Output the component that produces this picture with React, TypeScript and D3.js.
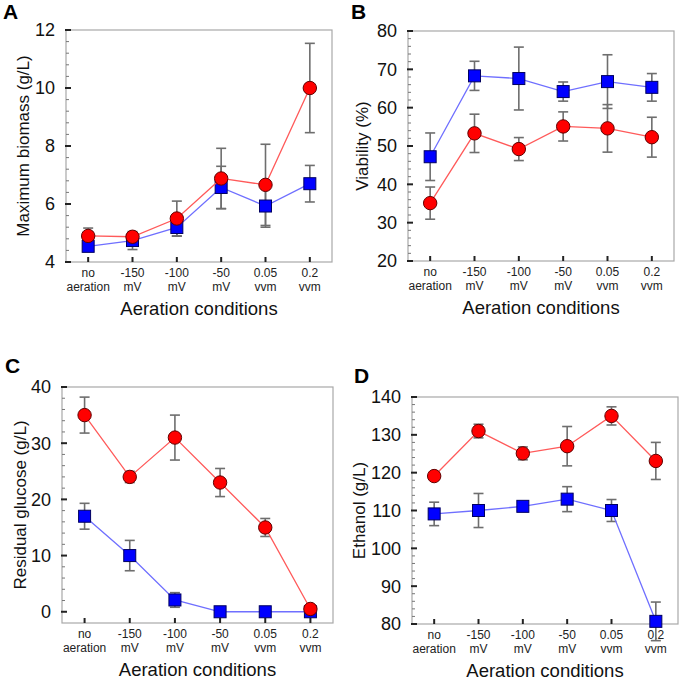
import React, { useEffect, useRef } from "react";
import * as d3 from "d3";

const conditions = ["no|aeration", "-150|mV", "-100|mV", "-50|mV", "0.05|vvm", "0.2|vvm"];

// A - maximum biomass
const biomassRed = [4.9, 4.87, 5.5, 6.88, 6.66, 10.0];
const biomassRedErr = [0.27, 0.1, 0.6, 1.04, 1.4, 1.54];
const biomassBlue = [4.54, 4.74, 5.19, 6.57, 5.93, 6.7];
const biomassBlueErr = [0.1, 0.31, 0.3, 0.73, 0.73, 0.63];

// B - viability
const viabRed = [35.1, 53.3, 49.2, 55.1, 54.6, 52.3];
const viabRedErr = [4.2, 5.0, 3.0, 3.8, 6.2, 5.2];
const viabBlue = [47.2, 68.3, 67.6, 64.2, 66.8, 65.3];
const viabBlueErr = [6.2, 3.8, 8.2, 2.5, 7.0, 3.6];

// C - residual glucose
const glucRed = [35.0, 24.0, 31.0, 23.0, 15.0, 0.5];
const glucRedErr = [3.2, 1.0, 4.0, 2.5, 1.6, 0.3];
const glucBlue = [17.0, 10.0, 2.1, 0, 0, 0];
const glucBlueErr = [2.3, 2.7, 1.3, 0, 0, 0];

// D - ethanol
const ethRed = [119.1, 131.0, 125.1, 127.0, 135.0, 123.1];
const ethRedErr = [1.0, 1.8, 1.7, 5.2, 2.4, 4.9];
const ethBlue = [109.1, 110.0, 111.1, 113.0, 110.0, 80.7];
const ethBlueErr = [3.1, 4.5, 0.8, 3.3, 2.9, 5.1];

const panels = [
  { tag: "A", tagX: 3, tagY: 19, box: [66, 30, 332, 262], yDomain: [4, 12], yTicks: [4, 6, 8, 10, 12], yTitle: "Maximum biomass (g/L)", titleX: 23,
    red: biomassRed, redErr: biomassRedErr, blue: biomassBlue, blueErr: biomassBlueErr },
  { tag: "B", tagX: 351, tagY: 19, box: [408, 31, 674, 261], yDomain: [20, 80], yTicks: [20, 30, 40, 50, 60, 70, 80], yTitle: "Viability (%)", titleX: 362,
    red: viabRed, redErr: viabRedErr, blue: viabBlue, blueErr: viabBlueErr },
  { tag: "C", tagX: 5, tagY: 373, box: [62, 387, 333, 623], yDomain: [-2, 40], yTicks: [0, 10, 20, 30, 40], yTitle: "Residual glucose (g/L)", titleX: 20,
    red: glucRed, redErr: glucRedErr, blue: glucBlue, blueErr: glucBlueErr },
  { tag: "D", tagX: 354, tagY: 383, box: [412, 397, 678, 624], yDomain: [80, 140], yTicks: [80, 90, 100, 110, 120, 130, 140], yTitle: "Ethanol (g/L)", titleX: 359,
    red: ethRed, redErr: ethRedErr, blue: ethBlue, blueErr: ethBlueErr },
];

const FONT = "'Liberation Sans', Arial, sans-serif";

export default function App() {
  const ref = useRef<SVGSVGElement>(null);

  useEffect(() => {
    const svg = d3.select(ref.current);
    svg.selectAll("*").remove();

    panels.forEach((p) => {
      const [x0, y0, x1, y1] = p.box;
      const x = d3.scalePoint().domain(conditions).range([x0, x1]).padding(0.5);
      const y = d3.scaleLinear().domain(p.yDomain).range([y1, y0]);
      const g = svg.append("g").style("font-family", FONT);

      g.append("text").attr("x", p.tagX).attr("y", p.tagY)
        .attr("font-size", 21).attr("font-weight", "bold").text(p.tag);

      g.append("rect").attr("x", x0).attr("y", y0)
        .attr("width", x1 - x0).attr("height", y1 - y0)
        .attr("fill", "white").attr("stroke", "#a8a8a8").attr("stroke-width", 1.2);

      // minor y ticks
      const step = (p.yTicks[1] - p.yTicks[0]) / 5;
      const minor = d3.range(p.yTicks[0], p.yTicks[p.yTicks.length - 1], step)
        .filter((v, i) => i % 5 !== 0);
      g.selectAll(".minor").data(minor).join("line")
        .attr("x1", x0).attr("x2", x0 + 3)
        .attr("y1", (d) => y(d)).attr("y2", (d) => y(d))
        .attr("stroke", "#777").attr("stroke-width", 1);

      g.selectAll(".major").data(p.yTicks).join("line")
        .attr("x1", x0 - 1).attr("x2", x0 + 5)
        .attr("y1", (d) => y(d)).attr("y2", (d) => y(d))
        .attr("stroke", "#222").attr("stroke-width", 2);

      g.selectAll(".ylab").data(p.yTicks).join("text")
        .attr("x", x0 - 11).attr("y", (d) => y(d)).attr("dy", "0.36em")
        .attr("text-anchor", "end").attr("font-size", 18).attr("fill", "#111")
        .text((d) => d);

      // x ticks and labels
      g.selectAll(".xtick").data(conditions).join("line")
        .attr("x1", (d) => x(d)).attr("x2", (d) => x(d))
        .attr("y1", y1).attr("y2", y1 - 5)
        .attr("stroke", "#222").attr("stroke-width", 2);

      const xl = g.selectAll(".xlab").data(conditions).join("text")
        .attr("text-anchor", "middle").attr("font-size", 12).attr("fill", "#222");
      xl.append("tspan").attr("x", (d) => x(d)!).attr("y", y1 + 15).text((d) => d.split("|")[0]);
      xl.append("tspan").attr("x", (d) => x(d)!).attr("y", y1 + 29).text((d) => d.split("|")[1]);

      g.append("text").attr("x", (x0 + x1) / 2).attr("y", y1 + 53)
        .attr("text-anchor", "middle").attr("font-size", 18.5).attr("fill", "#111")
        .text("Aeration conditions");

      g.append("text")
        .attr("transform", `translate(${p.titleX},${(y0 + y1) / 2}) rotate(-90)`)
        .attr("text-anchor", "middle").attr("dy", "0.36em")
        .attr("font-size", 17).attr("fill", "#111").text(p.yTitle);

      const series = [
        { vals: p.blue, err: p.blueErr, line: "#6f6fff", fill: "#0000ff", stroke: "#000060", shape: "square" },
        { vals: p.red, err: p.redErr, line: "#ff5a5a", fill: "#ff0000", stroke: "#600000", shape: "circle" },
      ];

      // error bars first
      series.forEach((s) => {
        const idx = d3.range(s.vals.length).filter((i) => s.err[i] > 0);
        const eb = g.append("g").attr("stroke", "#6e6e6e").attr("stroke-width", 1.6);
        idx.forEach((i) => {
          const cx = x(conditions[i])!;
          const top = y(s.vals[i] + s.err[i]);
          const bot = y(s.vals[i] - s.err[i]);
          eb.append("line").attr("x1", cx).attr("x2", cx).attr("y1", top).attr("y2", bot);
          eb.append("line").attr("x1", cx - 5).attr("x2", cx + 5).attr("y1", top).attr("y2", top);
          eb.append("line").attr("x1", cx - 5).attr("x2", cx + 5).attr("y1", bot).attr("y2", bot);
        });
      });

      series.forEach((s) => {
        const line = d3.line<number>().x((_, i) => x(conditions[i])!).y((d) => y(d));
        g.append("path").attr("d", line(s.vals)).attr("fill", "none")
          .attr("stroke", s.line).attr("stroke-width", 1.3);
        if (s.shape === "circle") {
          g.selectAll(null).data(s.vals).join("circle")
            .attr("cx", (_, i) => x(conditions[i])!).attr("cy", (d) => y(d)).attr("r", 6.7)
            .attr("fill", s.fill).attr("stroke", s.stroke).attr("stroke-width", 1);
        } else {
          g.selectAll(null).data(s.vals).join("rect")
            .attr("x", (_, i) => x(conditions[i])! - 6).attr("y", (d) => y(d) - 6)
            .attr("width", 12).attr("height", 12)
            .attr("fill", s.fill).attr("stroke", s.stroke).attr("stroke-width", 1);
        }
      });
    });
  }, []);

  return (
    <svg ref={ref} width={685} height={680}
      style={{ position: "absolute", left: 0, top: 0, background: "white" }} />
  );
}
